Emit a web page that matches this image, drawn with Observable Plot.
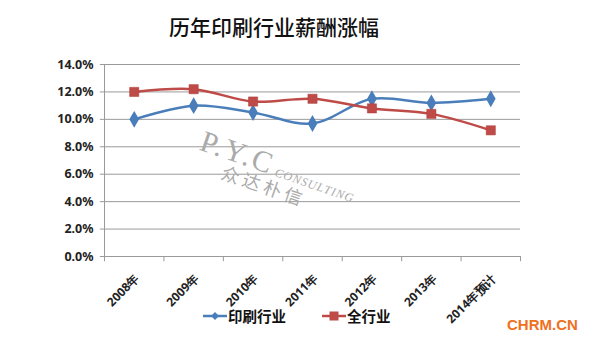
<!DOCTYPE html>
<html><head><meta charset="utf-8">
<script src="https://cdn.jsdelivr.net/npm/d3@7"></script>
<script src="https://cdn.jsdelivr.net/npm/@observablehq/plot@0.6"></script>
<style>
body{margin:0;background:#fff;}
#wrap{position:relative;width:594px;height:345px;overflow:hidden;font-family:"Liberation Sans",Arial,"Noto Sans CJK SC",sans-serif;}
#title{position:absolute;left:0;width:548px;top:11px;text-align:center;font-family:"Noto Sans CJK SC",sans-serif;font-size:21px;font-weight:500;color:#111;}
#legend{position:absolute;top:305px;left:203px;font-family:"Noto Sans CJK SC",sans-serif;font-size:14.5px;font-weight:bold;color:#111;display:flex;align-items:center;}
#legend span{display:inline-flex;align-items:center;}
#brand{position:absolute;left:507px;top:316px;font-family:"Liberation Sans",Arial,sans-serif;font-weight:bold;font-size:15px;color:#f07020;}
#wm{position:absolute;left:207px;top:124px;transform:rotate(19deg);transform-origin:left top;color:#aaa;font-family:"Liberation Serif",serif;white-space:nowrap;}
</style></head>
<body><div id="wrap"><div id="chart"></div>
<div id="title">历年印刷行业薪酬涨幅</div>
<div id="wm"><span style="font-size:30px;letter-spacing:2px;">P.Y.C</span><span style="font-size:12px;font-style:italic;letter-spacing:1px;"> CONSULTING</span><div style="font-size:18px;margin-left:30px;margin-top:-8px;font-family:'Noto Sans CJK SC';letter-spacing:4px;">众达朴信</div></div>
<div id="legend"></div>
<div id="brand">CHRM.CN</div>
</div>
<script>
const categories = ["2008年","2009年","2010年","2011年","2012年","2013年","2014年预计"];
const printing = [10.0, 11.0, 10.5, 9.7, 11.5, 11.2, 11.5];
const allIndustry = [12.0, 12.2, 11.3, 11.5, 10.8, 10.4, 9.2];
const yTicks = [0, 2, 4, 6, 8, 10, 12, 14];
const seriesNames = ["印刷行业", "全行业"];
const colors = ["#4a7ebb", "#be4b48"];

const rows = categories.map((c, i) => ({i: i + 0.5, cat: c, v: printing[i], s: seriesNames[0]}));
const rowsB = categories.map((c, i) => ({i: i + 0.5, cat: c, v: allIndustry[i], s: seriesNames[1]}));
const cats = categories.map((c, i) => ({i: i + 0.5, cat: c}));
const bounds = d3.range(categories.length + 1);

const chart = Plot.plot({
  width: 594, height: 345,
  marginTop: 64, marginBottom: 89, marginLeft: 104, marginRight: 74,
  x: {type: "linear", domain: [0, categories.length], axis: null},
  y: {type: "linear", domain: [0, 14], axis: null},
  style: {background: "transparent", overflow: "visible"},
  marks: [
    Plot.ruleY(yTicks, {y: d => d, x1: -0.07, x2: categories.length, stroke: "#9a9a9a", strokeWidth: 1}),
    Plot.text(yTicks, {x: 0, y: d => d, text: d => d.toFixed(1) + "%", textAnchor: "end", dx: -11, fontSize: 12.5, fontWeight: "bold", fill: "#222"}),
    Plot.ruleX([0], {x: d => d, y1: 0, y2: 14, stroke: "#9a9a9a"}),
    Plot.ruleX(bounds, {x: d => d, y1: 0, y2: -0.38, stroke: "#9a9a9a"}),
    Plot.text(cats, {x: "i", y: 0, text: "cat", rotate: -45, textAnchor: "end", dx: 3, dy: 20, fontSize: 12, fontWeight: "bold", fill: "#222"}),
    Plot.line(rows, {x: "i", y: "v", stroke: colors[0], strokeWidth: 2.5, curve: "catmull-rom"}),
    Plot.line(rowsB, {x: "i", y: "v", stroke: colors[1], strokeWidth: 2.5, curve: "catmull-rom"}),
    Plot.dot(rows, {x: "i", y: "v", symbol: "diamond", r: 4.2, fill: colors[0], stroke: colors[0]}),
    Plot.dot(rowsB, {x: "i", y: "v", symbol: "square", r: 5.2, fill: colors[1], stroke: "#b03e3b", strokeWidth: 0.5})
  ]
});
document.getElementById("chart").appendChild(chart);

const leg = document.getElementById("legend");
const syms = [
  '<svg width="24" height="12"><line x1="0" y1="6" x2="24" y2="6" stroke="#4a7ebb" stroke-width="2.5"/><path d="M12,2 L16,6 L12,10 L8,6 Z" fill="#4a7ebb"/></svg>',
  '<svg width="24" height="12"><line x1="0" y1="6" x2="24" y2="6" stroke="#be4b48" stroke-width="2.5"/><rect x="7.5" y="1.5" width="9" height="9" fill="#be4b48"/></svg>'
];
seriesNames.forEach((n, k) => {
  const s = document.createElement("span");
  s.style.marginRight = k === 0 ? "36px" : "0";
  s.innerHTML = syms[k] + '<span style="margin-left:1px">' + n + '</span>';
  leg.appendChild(s);
});
</script></body></html>
